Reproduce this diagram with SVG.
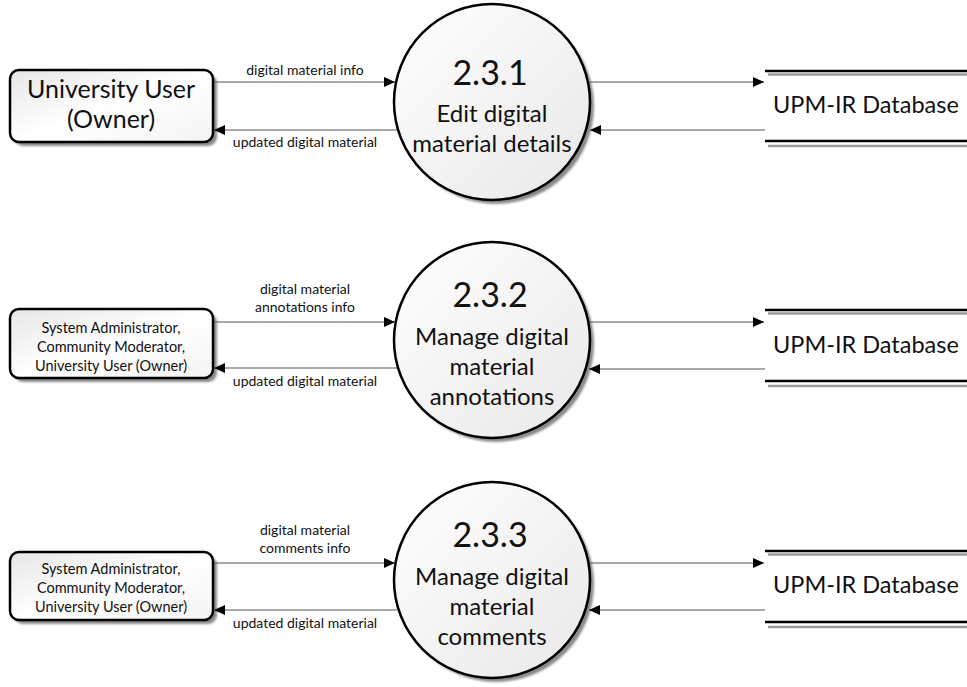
<svg xmlns="http://www.w3.org/2000/svg" width="967" height="687" viewBox="0 0 967 687">
  <style>
    text { font-family: Lato, "Open Sans", "Liberation Sans", sans-serif; fill: #111; }
    .ext { fill: url(#boxFill); stroke: #000; stroke-width: 2.5; }
    .shadow { fill: #8a8a8a; filter: url(#soft); }
    .proc { fill: url(#procFill); stroke: #000; stroke-width: 2.5; }
    .flow { stroke: #555; stroke-width: 1; fill: none; }
    .lbl { font-size: 14px; text-anchor: middle; }
    .ent { font-size: 14.5px; text-anchor: middle; }
    .entBig { font-size: 25px; text-anchor: middle; }
    .num { font-size: 34px; text-anchor: middle; }
    .pname { font-size: 24px; text-anchor: middle; }
    .store { font-size: 23.5px; }
    .rail { stroke: #000; stroke-width: 2.5; }
    .railShade { stroke: #9a9a9a; stroke-width: 2.5; }
  </style>
  <defs>
    <linearGradient id="boxFill" x1="0" y1="0" x2="1" y2="1">
      <stop offset="0" stop-color="#e6e6e6"/>
      <stop offset="0.5" stop-color="#ffffff"/>
      <stop offset="1" stop-color="#f4f4f4"/>
    </linearGradient>
    <linearGradient id="procFill" x1="0" y1="0" x2="1" y2="1">
      <stop offset="0" stop-color="#ffffff"/>
      <stop offset="1" stop-color="#e8e8e8"/>
    </linearGradient>
    <filter id="soft" x="-10%" y="-10%" width="120%" height="120%">
      <feGaussianBlur stdDeviation="1"/>
    </filter>
    <marker id="arrow" markerWidth="12" markerHeight="10" refX="11" refY="5" orient="auto" markerUnits="userSpaceOnUse">
      <path d="M0,0 L11,5 L0,10 Z" fill="#000"/>
    </marker>
  </defs>

  <!-- external entities -->
  <g id="owner">
    <rect class="shadow" x="14" y="74" width="203" height="72" rx="9"/>
    <rect class="ext" x="10" y="70" width="203" height="72" rx="9"/>
    <text class="entBig" x="111" y="98">University User</text>
    <text class="entBig" x="111" y="128">(Owner)</text>
  </g>
  <g id="users-annotations">
    <rect class="shadow" x="14" y="313" width="203" height="69" rx="9"/>
    <rect class="ext" x="10" y="309" width="203" height="69" rx="9"/>
    <text class="ent" x="111" y="333">System Administrator,</text>
    <text class="ent" x="111" y="352">Community Moderator,</text>
    <text class="ent" x="111" y="371">University User (Owner)</text>
  </g>
  <g id="users-comments">
    <rect class="shadow" x="14" y="556" width="203" height="68" rx="9"/>
    <rect class="ext" x="10" y="552" width="203" height="68" rx="9"/>
    <text class="ent" x="111" y="574">System Administrator,</text>
    <text class="ent" x="111" y="593">Community Moderator,</text>
    <text class="ent" x="111" y="612">University User (Owner)</text>
  </g>

  <!-- processes -->
  <g id="p231">
    <circle class="shadow" cx="496" cy="106" r="98"/>
    <circle class="proc" cx="492" cy="102" r="98"/>
    <text class="num" x="490" y="85">2.3.1</text>
    <text class="pname" x="492" y="122">Edit digital</text>
    <text class="pname" x="492" y="152">material details</text>
  </g>
  <g id="p232">
    <circle class="shadow" cx="496" cy="344" r="98"/>
    <circle class="proc" cx="492" cy="340" r="98"/>
    <text class="num" x="490" y="307">2.3.2</text>
    <text class="pname" x="492" y="345">Manage digital</text>
    <text class="pname" x="492" y="375">material</text>
    <text class="pname" x="492" y="405">annotations</text>
  </g>
  <g id="p233">
    <circle class="shadow" cx="496" cy="584" r="98"/>
    <circle class="proc" cx="492" cy="580" r="98"/>
    <text class="num" x="490" y="547">2.3.3</text>
    <text class="pname" x="492" y="585">Manage digital</text>
    <text class="pname" x="492" y="615">material</text>
    <text class="pname" x="492" y="645">comments</text>
  </g>

  <!-- data stores -->
  <g id="store1">
    <line class="rail" x1="765" y1="71" x2="967" y2="71"/>
    <line class="railShade" x1="768" y1="74.5" x2="967" y2="74.5"/>
    <line class="rail" x1="765" y1="141" x2="967" y2="141"/>
    <line class="railShade" x1="768" y1="146" x2="967" y2="146"/>
    <text class="store" x="773" y="113">UPM-IR Database</text>
  </g>
  <g id="store2">
    <line class="rail" x1="765" y1="310" x2="967" y2="310"/>
    <line class="railShade" x1="768" y1="313.5" x2="967" y2="313.5"/>
    <line class="rail" x1="765" y1="381" x2="967" y2="381"/>
    <line class="railShade" x1="768" y1="386" x2="967" y2="386"/>
    <text class="store" x="773" y="353">UPM-IR Database</text>
  </g>
  <g id="store3">
    <line class="rail" x1="765" y1="551" x2="967" y2="551"/>
    <line class="railShade" x1="768" y1="554.5" x2="967" y2="554.5"/>
    <line class="rail" x1="765" y1="622" x2="967" y2="622"/>
    <line class="railShade" x1="768" y1="627" x2="967" y2="627"/>
    <text class="store" x="773" y="593">UPM-IR Database</text>
  </g>

  <!-- data flows -->
  <g id="flows">
    <line class="flow" x1="214" y1="82" x2="395" y2="82" marker-end="url(#arrow)"/>
    <line class="flow" x1="397" y1="130" x2="214" y2="130" marker-end="url(#arrow)"/>
    <line class="flow" x1="590" y1="82" x2="764" y2="82" marker-end="url(#arrow)"/>
    <line class="flow" x1="765" y1="130" x2="590" y2="130" marker-end="url(#arrow)"/>

    <line class="flow" x1="214" y1="322" x2="395" y2="322" marker-end="url(#arrow)"/>
    <line class="flow" x1="397" y1="368" x2="214" y2="368" marker-end="url(#arrow)"/>
    <line class="flow" x1="590" y1="322" x2="764" y2="322" marker-end="url(#arrow)"/>
    <line class="flow" x1="765" y1="369" x2="589" y2="369" marker-end="url(#arrow)"/>

    <line class="flow" x1="214" y1="563" x2="395" y2="563" marker-end="url(#arrow)"/>
    <line class="flow" x1="397" y1="610" x2="214" y2="610" marker-end="url(#arrow)"/>
    <line class="flow" x1="590" y1="563" x2="764" y2="563" marker-end="url(#arrow)"/>
    <line class="flow" x1="765" y1="610" x2="589" y2="610" marker-end="url(#arrow)"/>

    <text class="lbl" x="305" y="75">digital material info</text>
    <text class="lbl" x="305" y="147">updated digital material</text>
    <text class="lbl" x="305" y="294">digital material</text>
    <text class="lbl" x="305" y="312">annotations info</text>
    <text class="lbl" x="305" y="386">updated digital material</text>
    <text class="lbl" x="305" y="535">digital material</text>
    <text class="lbl" x="305" y="553">comments info</text>
    <text class="lbl" x="305" y="628">updated digital material</text>
  </g>
</svg>
